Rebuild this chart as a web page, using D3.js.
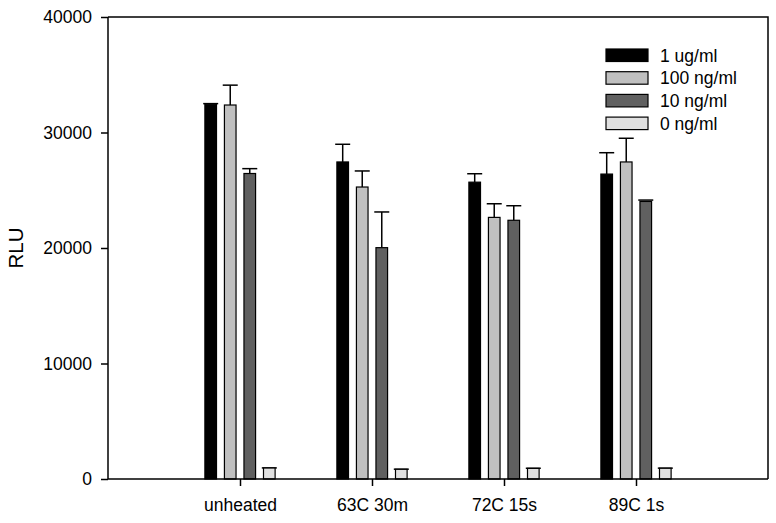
<!DOCTYPE html>
<html>
<head>
<meta charset="utf-8">
<script src="https://cdn.jsdelivr.net/npm/d3@7"></script>
<style>
    body { margin: 0; background: #fff; }
    svg text { font-family: "Liberation Sans", Arial, sans-serif; }
</style>
</head>
<body>
<svg width="776" height="523"></svg>
<script>
/*global d3 */
"use strict";

var categories = ["unheated", "63C 30m", "72C 15s", "89C 1s"];
var seriesNames = ["1 ug/ml", "100 ng/ml", "10 ng/ml", "0 ng/ml"];
var seriesColors = ["#000000", "#c0c0c0", "#606060", "#e0e0e0"];
// means per series, one value per category
var means = [
    [32450, 27450, 25700, 26400],
    [32380, 25280, 22650, 27450],
    [26450, 20030, 22400, 24030],
    [950, 840, 920, 930]
];
// upper error bar tips
var errTops = [
    [32500, 28980, 26430, 28250],
    [34100, 26670, 23830, 29500],
    [26870, 23120, 23660, 24150],
    [960, 850, 930, 940]
];
var yTicks = [0, 10000, 20000, 30000, 40000];

var margin = {
    top: 17, // px
    left: 108, // px
    bottom: 44, // px
    right: 8 // px
};
var width = 776, height = 523;
var svg = d3.select("svg");

var xScale = d3.scaleLinear()
    .domain([0, categories.length + 1])
    .range([margin.left, width - margin.right]);
var yScale = d3.scaleLinear()
    .domain([0, 40000])
    .range([height - margin.bottom, margin.top]);

var slot = 0.148; // category units between bars
var barW = 0.088; // category units

var bars = svg.append("g");
means.forEach(function (row, s) {
    row.forEach(function (v, c) {
        var cx = xScale(c + 1 + (s - 1.5) * slot);
        var w = xScale(barW) - xScale(0);
        // error bar first so the bar outline sits on top
        var tip = errTops[s][c];
        if (tip - v > 150) {
            bars.append("line")
                .attr("x1", cx).attr("x2", cx)
                .attr("y1", yScale(v)).attr("y2", yScale(tip))
                .attr("stroke", "#000").attr("stroke-width", 1.5);
        }
        bars.append("line")
            .attr("x1", cx - 7.5).attr("x2", cx + 7.5)
            .attr("y1", yScale(tip)).attr("y2", yScale(tip))
            .attr("stroke", "#000").attr("stroke-width", 1.5);
        bars.append("rect")
            .attr("x", cx - w / 2)
            .attr("y", yScale(v))
            .attr("width", w)
            .attr("height", yScale(0) - yScale(v))
            .attr("fill", seriesColors[s])
            .attr("stroke", "#000")
            .attr("stroke-width", 1.2);
    });
});

// frame: top and right borders
svg.append("path")
    .attr("d", "M" + margin.left + "," + margin.top +
            "H" + (width - margin.right) +
            "V" + (height - margin.bottom))
    .attr("fill", "none")
    .attr("stroke", "#000")
    .attr("stroke-width", 1.5);

var yAxis = d3.axisLeft(yScale)
    .tickValues(yTicks)
    .tickSize(7)
    .tickPadding(9)
    .tickFormat(d3.format("d"));
var yAxisGroup = svg.append("g")
    .attr("transform", "translate(" + margin.left + ",0)")
    .call(yAxis);

var xAxis = d3.axisBottom(xScale)
    .tickValues([1, 2, 3, 4])
    .tickSize(7)
    .tickPadding(13)
    .tickFormat(function (d) {
        return categories[d - 1];
    });
var xAxisGroup = svg.append("g")
    .attr("transform", "translate(0," + (height - margin.bottom) + ")")
    .call(xAxis);

[yAxisGroup, xAxisGroup].forEach(function (g) {
    g.select(".domain")
        .attr("stroke-width", 1.5)
        .attr("d", g === yAxisGroup
            ? "M0," + margin.top + "V" + (height - margin.bottom)
            : "M" + margin.left + ",0H" + (width - margin.right));
    g.selectAll(".tick line").attr("stroke-width", 1.5);
    g.selectAll(".tick text")
        .attr("font-size", "17.5px")
        .attr("fill", "#000")
        .attr("font-family", "Liberation Sans, Arial, sans-serif");
});

svg.append("text")
    .attr("transform", "translate(23," +
            ((margin.top + height - margin.bottom) / 2) + ") rotate(-90)")
    .attr("text-anchor", "middle")
    .attr("font-size", "20.5px")
    .text("RLU");

// legend
var legend = svg.append("g")
    .attr("transform", "translate(606,49)");
seriesNames.forEach(function (name, i) {
    legend.append("rect")
        .attr("x", 0)
        .attr("y", i * 22.7)
        .attr("width", 42)
        .attr("height", 12.5)
        .attr("fill", seriesColors[i])
        .attr("stroke", "#000")
        .attr("stroke-width", 1.2);
    legend.append("text")
        .attr("x", 54)
        .attr("y", i * 22.7 + 12.5)
        .attr("font-size", "17.5px")
        .text(name);
});
</script>
</body>
</html>
